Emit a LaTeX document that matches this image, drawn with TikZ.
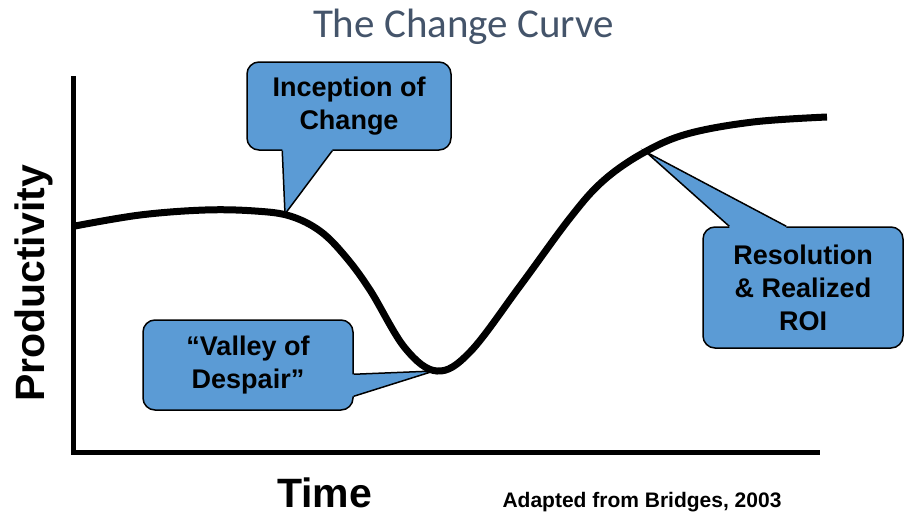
\documentclass[tikz,border=0pt]{standalone}
\usepackage{fontspec}
\setmainfont{Liberation Sans}
\newfontfamily\titlefont{Carlito}
\usetikzlibrary{positioning}
\definecolor{boxblue}{RGB}{91,155,213}
\definecolor{titlegray}{RGB}{68,84,106}

\begin{document}
\begin{tikzpicture}[% one unit is one point, y runs downwards
      x=1pt,y=-1pt,
      every node/.style={
        align=center,   % so that "\\" breaks the line
        inner sep=0pt
      },
      bubble/.style={rectangle,rounded corners=12pt,draw=black,
        line width=1.5pt,fill=boxblue,
        font=\bfseries\fontsize{27}{33}\selectfont},
      pointer/.style={draw=black,line width=1.5pt,line join=miter},
      label/.style={font=\bfseries\fontsize{41}{41}\selectfont}
    ]
    \useasboundingbox (0,0) rectangle (909,514);

    % axes
    \draw[line width=5pt,line join=miter] (73,76) -- (73,452.5) -- (820,452.5);

    % the curve
    \draw[line width=7pt] plot[smooth,tension=0.6] coordinates {
      (75,226) (140,215) (205,210) (255,211) (290,216) (320,231)
      (345,256) (370,290) (405,348) (437,371) (470,352)
      (520,286) (570,218) (603,181) (643,153) (687,134)
      (753,122) (827,117)};
    \coordinate (P1) at (285,214);
    \coordinate (P2) at (434,371);
    \coordinate (P3) at (646,152);

    % callouts
    \node[bubble,minimum width=204pt,minimum height=88pt](C1) at (349,106)
      {Inception of\\Change};
    \fill[boxblue] ([xshift=36pt,yshift=2pt]C1.south west)
      -- ([xshift=36pt]C1.south west) -- (P1) -- ([xshift=86pt]C1.south west)
      -- ([xshift=86pt,yshift=2pt]C1.south west) -- cycle;
    \draw[pointer] ([xshift=36pt]C1.south west) -- (P1) -- ([xshift=86pt]C1.south west);

    \node[bubble,minimum width=210pt,minimum height=90pt](C2) at (248,365)
      {``Valley of\\Despair''};
    \fill[boxblue] ([xshift=-2pt,yshift=-55pt]C2.north east)
      -- ([yshift=-55pt]C2.north east) -- (P2) -- ([yshift=-77pt]C2.north east)
      -- ([xshift=-2pt,yshift=-77pt]C2.north east) -- cycle;
    \draw[pointer] ([yshift=-55pt]C2.north east) -- (P2) -- ([yshift=-77pt]C2.north east);

    \node[bubble,minimum width=200pt,minimum height=121pt](C3) at (803,287.5)
      {Resolution\\\& Realized\\ROI};
    \fill[boxblue] ([xshift=27pt,yshift=-2pt]C3.north west)
      -- ([xshift=27pt]C3.north west) -- (P3) -- ([xshift=84pt]C3.north west)
      -- ([xshift=84pt,yshift=-2pt]C3.north west) -- cycle;
    \draw[pointer] ([xshift=27pt]C3.north west) -- (P3) -- ([xshift=84pt]C3.north west);

    % titles and axis labels
    \node[font=\titlefont\fontsize{41}{41}\selectfont,text=titlegray,anchor=base](T)
      at (463.5,37) {The Change Curve};
    \node[label,rotate=90,anchor=base](Y) at (44,283.5) {Productivity};
    \node[label,anchor=base west](X) at (277,507) {Time};
    \node[font=\bfseries\fontsize{21}{21}\selectfont,base right=130pt of X](S)
      {Adapted from Bridges, 2003};
  \end{tikzpicture}
\end{document}
